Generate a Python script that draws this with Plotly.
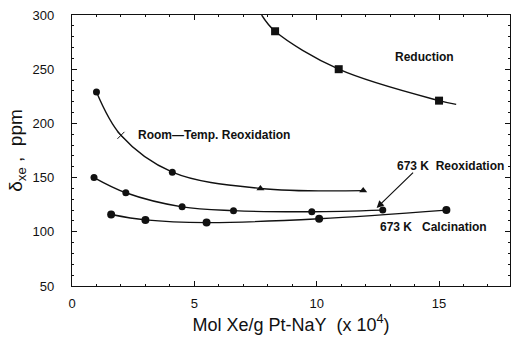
import plotly.graph_objects as go

# Data
red_x = [8.3, 10.9, 15.0]
red_y = [285, 250, 221]
red_line_x = [7.75, 8.3, 10.9, 15.0, 15.7]
red_line_y = [300, 285, 250, 221, 217.5]

rt_x = [1.0, 2.0, 4.1, 7.7, 11.9]
rt_y = [229, 189, 155, 140, 138]

reox_x = [0.9, 2.2, 4.5, 6.6, 9.8, 12.7]
reox_y = [150, 136, 123, 119.5, 118.5, 120]

calc_x = [1.6, 3.0, 5.5, 10.1, 15.3]
calc_y = [116, 111, 108.5, 112, 120]

fig = go.Figure()
black = "#111"

def add(x, y, symbols, size, lx=None, ly=None):
    fig.add_trace(go.Scatter(x=lx if lx else x, y=ly if ly else y, mode="lines",
                             line=dict(color=black, width=1.4, shape="spline", smoothing=1.0),
                             hoverinfo="skip", showlegend=False))
    fig.add_trace(go.Scatter(x=x, y=y, mode="markers",
                             marker=dict(color=black, symbol=symbols, size=size),
                             showlegend=False))

add(red_x, red_y, "square", 8, red_line_x, red_line_y)
add(rt_x, rt_y, ["circle", "x-thin-open", "circle", "triangle-up", "triangle-up"], 7)
add(reox_x, reox_y, "circle", 7)
add(calc_x, calc_y, "circle", 8)

fnt = dict(family="Liberation Sans, Arial", size=12, color=black)
anns = [
    dict(x=14.4, y=261, text="<b>Reduction</b>", xanchor="center"),
    dict(x=2.6, y=189, text="<b>Room\u2014Temp. Reoxidation</b>", xanchor="left"),
    dict(x=13.2, y=161, text="<b>673 K&nbsp;&nbsp;Reoxidation</b>", xanchor="left"),
    dict(x=12.5, y=104, text="<b>673 K&nbsp;&nbsp;&nbsp;Calcination</b>", xanchor="left"),
]
for a in anns:
    fig.add_annotation(**a, yanchor="middle", showarrow=False, font=fnt)

fig.add_annotation(x=12.45, y=122, ax=14.0, ay=156, xref="x", yref="y", axref="x", ayref="y",
                   text="", showarrow=True, arrowhead=2, arrowsize=1.2, arrowwidth=1.2,
                   arrowcolor=black)

axis_common = dict(showline=True, linecolor=black, linewidth=1.3, mirror="ticks",
                   ticks="inside", tickcolor=black, ticklen=5, showgrid=False, zeroline=False,
                   tickfont=dict(family="Liberation Sans, Arial", size=13, color=black))

fig.update_xaxes(range=[0, 17.9], tickvals=[0, 5, 10, 15],
                 minor=dict(dtick=1, ticks="inside", ticklen=2, tickcolor=black),
                 title=dict(text="Mol Xe/g Pt-NaY&nbsp;&nbsp;(x 10<sup>4</sup>)",
                            font=dict(family="Liberation Sans, Arial", size=18, color=black),
                            standoff=8),
                 ticklabelstandoff=5,
                 **axis_common)
fig.update_yaxes(range=[50, 300], tickvals=[50, 100, 150, 200, 250, 300],
                 minor=dict(dtick=10, ticks="inside", ticklen=2, tickcolor=black),
                 title=dict(text="\u03b4<sub>xe</sub> ,  ppm",
                            font=dict(family="Liberation Sans, Arial", size=19, color=black),
                            standoff=4),
                 ticklabelstandoff=14,
                 **axis_common)

fig.update_layout(width=513, height=338, margin=dict(l=72, r=3, t=15, b=52),
                  plot_bgcolor="white", paper_bgcolor="white")
fig.write_html("out.html")
